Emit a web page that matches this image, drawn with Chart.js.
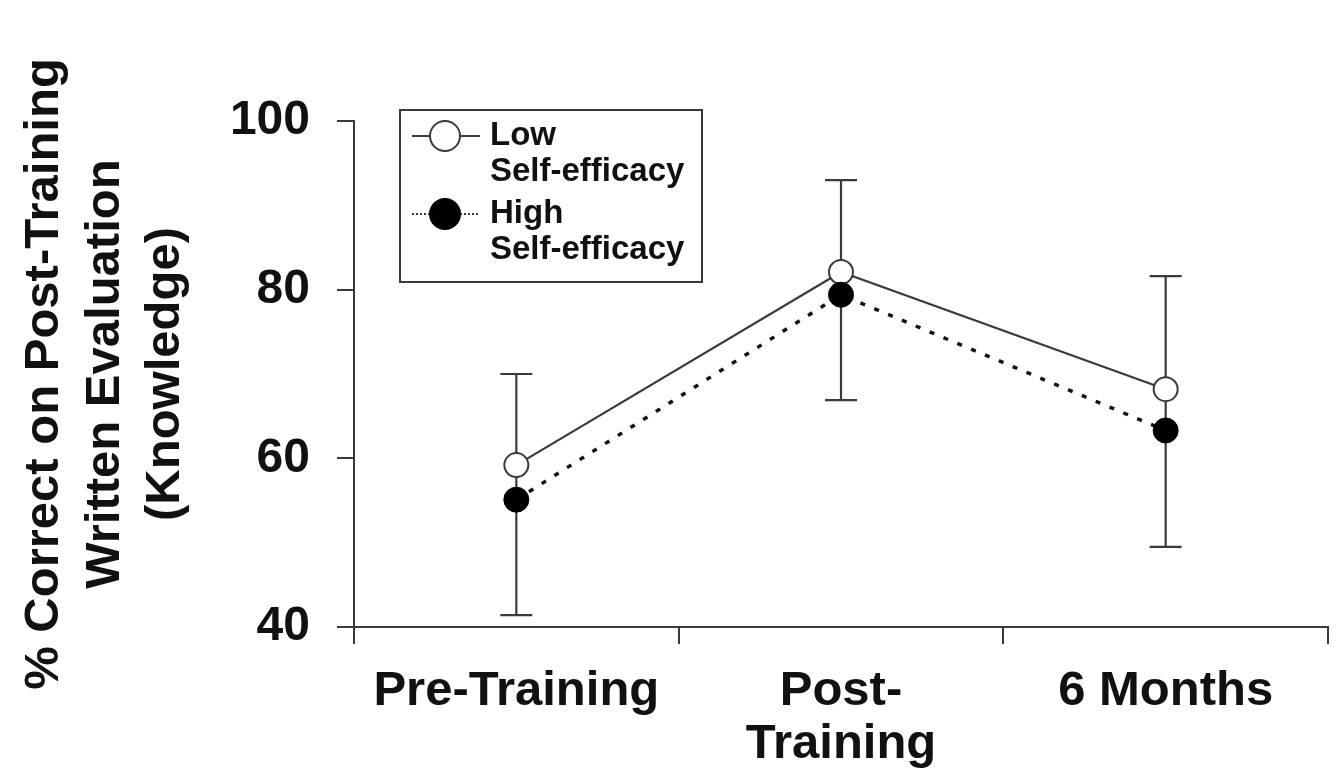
<!DOCTYPE html>
<html><head><meta charset="utf-8">
<script src="https://cdn.jsdelivr.net/npm/chart.js@4/dist/chart.umd.min.js"></script>
<style>html,body{margin:0;padding:0;background:#fff;} #wrap{width:1342px;height:777px;}</style>
</head><body><div id="wrap"><canvas id="c" width="1342" height="777"></canvas></div>
<script>
const categories = ['Pre-Training', ['Post-', 'Training'], '6 Months'];
const lowSelfEfficacy = [59.2, 82.1, 68.2];
const highSelfEfficacy = [55.1, 79.4, 63.3];
const lowErrorUp = [10.8, 10.9, 13.4];
const highErrorDown = [13.7, 12.5, 13.8];
const yTicks = [40, 60, 80, 100];
const lowLabel = ['Low', 'Self-efficacy'];
const highLabel = ['High', 'Self-efficacy'];
const yTitle = ['% Correct on Post-Training', 'Written Evaluation', '(Knowledge)'];

const FONT = "'Liberation Sans', Arial, sans-serif";
const INK = '#3a3a3a';

const errorBars = {
  id: 'errorBars',
  beforeDatasetsDraw(chart) {
    const {ctx, scales: {x, y}} = chart;
    ctx.save();
    ctx.strokeStyle = INK;
    ctx.lineWidth = 2.2;
    const bar = (px, v0, v1) => {
      const y0 = y.getPixelForValue(v0), y1 = y.getPixelForValue(v1);
      ctx.beginPath();
      ctx.moveTo(px, y0); ctx.lineTo(px, y1);
      ctx.moveTo(px - 16, y1); ctx.lineTo(px + 16, y1);
      ctx.stroke();
    };
    categories.forEach((c, i) => {
      const px = x.getPixelForValue(i);
      bar(px, lowSelfEfficacy[i], lowSelfEfficacy[i] + lowErrorUp[i]);
      bar(px, highSelfEfficacy[i], highSelfEfficacy[i] - highErrorDown[i]);
      const ya = y.getPixelForValue(lowSelfEfficacy[i]), yb = y.getPixelForValue(highSelfEfficacy[i]);
      ctx.beginPath(); ctx.moveTo(px, ya); ctx.lineTo(px, yb); ctx.stroke();
    });
    ctx.restore();
  }
};

const boxLegend = {
  id: 'boxLegend',
  afterDraw(chart) {
    const {ctx, chartArea} = chart;
    const bx = chartArea.left + 46, by = chartArea.top - 11, bw = 302, bh = 172;
    ctx.save();
    ctx.fillStyle = '#fff';
    ctx.fillRect(bx, by, bw, bh);
    ctx.strokeStyle = INK;
    ctx.lineWidth = 2;
    ctx.strokeRect(bx, by, bw, bh);
    const items = chart.data.datasets.map((d, k) => ({ds: d, y: by + 26 + k * 78}));
    items.forEach(({ds, y}) => {
      ctx.strokeStyle = INK;
      ctx.lineWidth = 2;
      ctx.setLineDash(ds.borderDash && ds.borderDash.length ? [2, 2] : []);
      ctx.beginPath(); ctx.moveTo(bx + 12, y); ctx.lineTo(bx + 80, y); ctx.stroke();
      ctx.setLineDash([]);
      ctx.beginPath(); ctx.arc(bx + 45, y, 15, 0, Math.PI * 2);
      ctx.fillStyle = ds.pointBackgroundColor; ctx.fill();
      ctx.strokeStyle = ds.pointBorderColor; ctx.lineWidth = 2; ctx.stroke();
      ctx.fillStyle = '#111';
      ctx.font = 'bold 33px ' + FONT;
      ctx.textBaseline = 'middle';
      ctx.textAlign = 'left';
      ds.label.forEach((t, j) => ctx.fillText(t, bx + 90, y + j * 36));
    });
    ctx.restore();
  }
};

new Chart(document.getElementById('c'), {
  type: 'line',
  data: {
    labels: categories,
    datasets: [
      {
        label: lowLabel,
        data: lowSelfEfficacy,
        borderColor: INK,
        borderWidth: 2.2,
        pointRadius: 12,
        pointBackgroundColor: '#ffffff',
        pointBorderColor: INK,
        pointBorderWidth: 2,
        borderDash: [],
        clip: false,
        order: 2
      },
      {
        label: highLabel,
        data: highSelfEfficacy,
        borderColor: '#111',
        borderWidth: 3.5,
        borderDash: [5, 10],
        pointRadius: 12.5,
        pointBackgroundColor: '#000000',
        pointBorderColor: '#000000',
        pointBorderWidth: 1,
        clip: false,
        order: 1
      }
    ]
  },
  options: {
    responsive: false,
    animation: false,
    devicePixelRatio: 1,
    layout: {padding: {top: 121, right: 9, left: 0, bottom: 0}},
    plugins: {legend: {display: false}, tooltip: {enabled: false}},
    scales: {
      x: {
        type: 'category',
        offset: true,
        grid: {offset: true, drawOnChartArea: false, drawTicks: true, tickLength: 17, tickColor: INK, lineWidth: 2},
        border: {display: true, color: INK, width: 2},
        ticks: {color: '#111', font: {family: FONT, size: 49, weight: 'bold', lineHeight: 1.08}, padding: 21, maxRotation: 0, autoSkip: false},
        afterFit(s) { s.height = 150; }
      },
      y: {
        min: 40, max: 100,
        afterBuildTicks(s) { s.ticks = yTicks.map(v => ({value: v})); },
        grid: {drawOnChartArea: false, drawTicks: true, tickLength: 17, tickColor: INK, lineWidth: 2},
        border: {display: true, color: INK, width: 2},
        ticks: {color: '#111', font: {family: FONT, size: 48, weight: 'bold'}, padding: 27},
        title: {display: true, text: yTitle, color: '#111', font: {family: FONT, size: 49, weight: 'bold', lineHeight: 1.24}, padding: {top: 14, bottom: 0}},
        afterFit(s) { s.width = 354; }
      }
    }
  },
  plugins: [errorBars, boxLegend]
});
</script></body></html>
